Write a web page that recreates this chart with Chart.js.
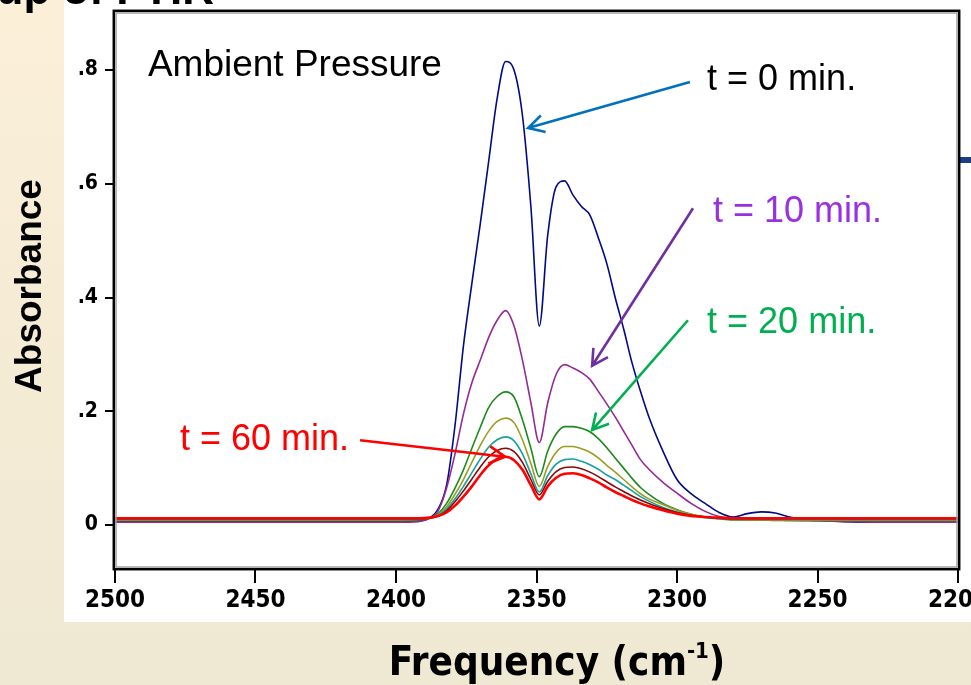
<!DOCTYPE html>
<html>
<head>
<meta charset="utf-8">
<script src="https://cdn.jsdelivr.net/npm/chart.js"></script>
<title>FTIR absorbance</title>
<style>
  body { margin: 0; background: #F3EBD5; }
  canvas { display: block; }
</style>
</head>
<body>
<canvas id="myChart" width="971" height="685"></canvas>
<script>
// wavenumber grid (cm-1), shared by all spectra
const frequency = [2500, 2450, 2400, 2392, 2388, 2385, 2382, 2379, 2376, 2373, 2370, 2367, 2364, 2361, 2358, 2355, 2352, 2349, 2346, 2343, 2340, 2337, 2334, 2331, 2328, 2325, 2322, 2319, 2316, 2313, 2310, 2305, 2300, 2295, 2290, 2285, 2280, 2275, 2270, 2265, 2260, 2250, 2240, 2230, 2200];

const t0  = [.006, .006, .006, .007, .012, .028, .07, .175, .315, .425, .53, .64, .75, .815, .80, .72, .56, .35, .51, .595, .605, .58, .56, .545, .505, .46, .40, .345, .285, .235, .19, .13, .08, .055, .038, .022, .014, .02, .023, .021, .014, .009, .006, .005, .005];
const t10 = [.005, .005, .005, .006, .012, .025, .065, .125, .195, .25, .29, .33, .36, .377, .35, .29, .215, .145, .215, .265, .282, .276, .268, .256, .235, .213, .19, .165, .14, .115, .098, .075, .056, .038, .024, .015, .011, .009, .009, .008, .008, .007, .006, .005, .005];
const t20 = [.008, .008, .008, .009, .012, .02, .038, .065, .097, .135, .172, .207, .226, .234, .225, .185, .135, .085, .13, .16, .173, .173, .17, .164, .152, .136, .118, .10, .082, .066, .054, .038, .027, .019, .014, .011, .009, .009, .009, .009, .008, .008, .008, .008, .008];
const t30 = [.009, .009, .009, .01, .012, .018, .032, .054, .08, .11, .14, .165, .182, .188, .18, .15, .108, .068, .103, .128, .138, .138, .134, .128, .118, .105, .093, .08, .067, .055, .046, .036, .026, .019, .014, .011, .01, .009, .009, .009, .009, .009, .009, .009, .009];
const t40 = [.01, .01, .01, .01, .012, .017, .028, .046, .068, .092, .116, .137, .15, .155, .148, .125, .09, .058, .087, .107, .115, .116, .112, .106, .098, .088, .08, .07, .06, .05, .042, .031, .023, .017, .013, .011, .01, .01, .01, .01, .01, .01, .01, .01, .01];
const t50 = [.011, .011, .011, .011, .012, .016, .025, .041, .06, .081, .102, .12, .131, .135, .129, .11, .08, .053, .077, .094, .101, .102, .099, .093, .085, .076, .067, .059, .051, .044, .038, .029, .022, .017, .014, .012, .011, .011, .011, .011, .011, .011, .011, .011, .011];
const t60 = [.012, .012, .012, .012, .013, .016, .022, .034, .05, .068, .088, .105, .116, .12, .114, .097, .07, .045, .068, .083, .09, .091, .088, .082, .075, .066, .058, .051, .044, .038, .033, .026, .02, .016, .014, .013, .012, .012, .012, .012, .012, .012, .012, .012, .012];

const seriesNames = ['t = 0 min.', 't = 10 min.', 't = 20 min.', 't = 30 min.', 't = 40 min.', 't = 50 min.', 't = 60 min.'];
const seriesValues = [t0, t10, t20, t30, t40, t50, t60];
const seriesColors = ['#000a85', '#952a95', '#1d8a1d', '#9c9c22', '#17a0a0', '#870808', '#ff0000'];

const xTicks = [2500, 2450, 2400, 2350, 2300, 2250, 2200];
const yTicks = [0, 0.2, 0.4, 0.6, 0.8];

// text and arrows on the plot, placed in data units
const labels = [
  { text: 'Ambient Pressure', color: '#000', at: [2488.3, 0.807], size: 37 },
  { text: 't = 0 min.', color: '#000', at: [2289.3, 0.782], size: 36 },
  { text: 't = 10 min.', color: '#9b30e0', at: [2287.2, 0.550], size: 36 },
  { text: 't = 20 min.', color: '#00b050', at: [2289.3, 0.355], size: 36 },
  { text: 't = 60 min.', color: '#ff0000', at: [2476.9, 0.149], size: 36 }
];
const arrows = [
  { color: '#0070c0', from: [2295.4, 0.779], to: [2353.0, 0.698] },
  { color: '#7030a0', from: [2294.3, 0.557], to: [2330.2, 0.280] },
  { color: '#00b050', from: [2296.1, 0.360], to: [2330.2, 0.167] },
  { color: '#ff0000', from: [2412.8, 0.149], to: [2361.2, 0.120] }
];

const datasets = seriesValues.map((vals, i) => ({
  label: seriesNames[i],
  data: vals.map((v, j) => ({ x: frequency[j], y: v })),
  borderColor: seriesColors[i],
  borderWidth: i === 6 ? 2.6 : 1.6,
  pointRadius: 0,
  cubicInterpolationMode: 'monotone',
  order: 6 - i
}));

const slide = {
  id: 'slide',
  beforeDraw(chart) {
    const ctx = chart.ctx;
    ctx.save();
    const g = ctx.createLinearGradient(0, 0, 0, chart.height);
    g.addColorStop(0, '#fbefd8');
    g.addColorStop(1, '#efe8d3');
    ctx.fillStyle = g;
    ctx.fillRect(0, 0, chart.width, chart.height);
    ctx.fillStyle = '#ffffff';
    ctx.fillRect(64, 0, chart.width - 64, 622);
    // cut-off slide title
    ctx.fillStyle = '#000';
    ctx.font = 'bold 44px "Liberation Sans", Arial, sans-serif';
    ctx.textAlign = 'right';
    ctx.textBaseline = 'alphabetic';
    ctx.fillText('Setup of FTIR', 214, 4);
    ctx.fillStyle = '#1f3c88';
    ctx.fillRect(960, 157, 11, 6);
    ctx.restore();
  },
  afterDraw(chart) {
    const ctx = chart.ctx;
    const a = chart.chartArea;
    const xs = chart.scales.x, ys = chart.scales.y;
    ctx.save();
    // frame
    ctx.strokeStyle = '#000';
    ctx.lineWidth = 2.5;
    ctx.strokeRect(a.left - 1.2, a.top - 1.2, a.right - a.left + 2.4, a.bottom - a.top + 2.4);
    ctx.strokeStyle = '#a0a0a0';
    ctx.lineWidth = 1.5;
    ctx.strokeRect(a.left + 1, a.top + 1, a.right - a.left - 2, a.bottom - a.top - 2);

    // labels
    ctx.textAlign = 'left';
    ctx.textBaseline = 'middle';
    labels.forEach(l => {
      ctx.fillStyle = l.color;
      ctx.font = l.size + 'px "Liberation Sans", Arial, sans-serif';
      ctx.fillText(l.text, xs.getPixelForValue(l.at[0]), ys.getPixelForValue(l.at[1]));
    });

    // arrows
    arrows.forEach(ar => {
      const x1 = xs.getPixelForValue(ar.from[0]), y1 = ys.getPixelForValue(ar.from[1]);
      const x2 = xs.getPixelForValue(ar.to[0]), y2 = ys.getPixelForValue(ar.to[1]);
      const ang = Math.atan2(y2 - y1, x2 - x1);
      ctx.strokeStyle = ar.color;
      ctx.lineWidth = 2.6;
      ctx.beginPath();
      ctx.moveTo(x1, y1);
      ctx.lineTo(x2, y2);
      ctx.moveTo(x2 - 18 * Math.cos(ang - 0.5), y2 - 18 * Math.sin(ang - 0.5));
      ctx.lineTo(x2, y2);
      ctx.lineTo(x2 - 18 * Math.cos(ang + 0.5), y2 - 18 * Math.sin(ang + 0.5));
      ctx.stroke();
    });

    // axis titles
    ctx.fillStyle = '#000';
    ctx.font = 'bold 37px "Liberation Sans", Arial, sans-serif';
    ctx.save();
    ctx.translate(31, 286);
    ctx.rotate(-Math.PI / 2);
    ctx.textAlign = 'center';
    ctx.textBaseline = 'middle';
    ctx.fillText('Absorbance', 0, 0);
    ctx.restore();

    ctx.textAlign = 'left';
    ctx.textBaseline = 'alphabetic';
    const t1 = 'Frequency (cm', sup = '-1', t2 = ')';
    const bigFont = 'bold 40px "DejaVu Sans Condensed", "Liberation Sans", Arial, sans-serif';
    const supFont = 'bold 22px "DejaVu Sans Condensed", "Liberation Sans", Arial, sans-serif';
    ctx.font = bigFont;
    const w1 = ctx.measureText(t1).width, w3 = ctx.measureText(t2).width;
    ctx.font = supFont;
    const w2 = ctx.measureText(sup).width;
    let x = 557 - (w1 + w2 + w3) / 2;
    const base = 675;
    ctx.font = bigFont;
    ctx.fillText(t1, x, base);
    x += w1;
    ctx.font = supFont;
    ctx.fillText(sup, x, base - 17);
    x += w2;
    ctx.font = bigFont;
    ctx.fillText(t2, x, base);
    ctx.restore();
  }
};

const tickFont = '"DejaVu Sans Condensed", "Liberation Sans Narrow", "Liberation Sans", sans-serif';

new Chart(document.getElementById('myChart'), {
  type: 'line',
  data: { datasets: datasets },
  plugins: [slide],
  options: {
    responsive: false,
    animation: false,
    layout: { autoPadding: false, padding: { top: 12, right: 13, left: 0, bottom: 0 } },
    plugins: { legend: { display: false }, tooltip: { enabled: false } },
    scales: {
      x: {
        type: 'linear',
        reverse: true,
        min: 2200,
        max: 2500,
        afterFit: s => { s.height = 117; s.paddingLeft = 0; s.paddingRight = 0; },
        afterBuildTicks: s => { s.ticks = xTicks.map(v => ({ value: v })); },
        grid: { drawOnChartArea: false, drawTicks: true, tickLength: 15, color: '#000', lineWidth: 2 },
        border: { display: false },
        ticks: {
          color: '#000',
          padding: 3,
          maxRotation: 0,
          autoSkip: false,
          font: { family: tickFont, size: 24, weight: 'bold' },
          callback: v => String(v)
        }
      },
      y: {
        type: 'linear',
        min: -0.0756,
        max: 0.902,
        afterFit: s => { s.width = 115; s.paddingTop = 0; s.paddingBottom = 0; },
        afterBuildTicks: s => { s.ticks = yTicks.map(v => ({ value: v })); },
        grid: { drawOnChartArea: false, drawTicks: true, tickLength: 10, color: '#000', lineWidth: 2 },
        border: { display: false },
        ticks: {
          color: '#000',
          padding: 7,
          font: { family: tickFont, size: 21, weight: 'bold' },
          callback: v => v === 0 ? '0' : '.' + Math.round(v * 10)
        }
      }
    }
  }
});
</script>
</body>
</html>
